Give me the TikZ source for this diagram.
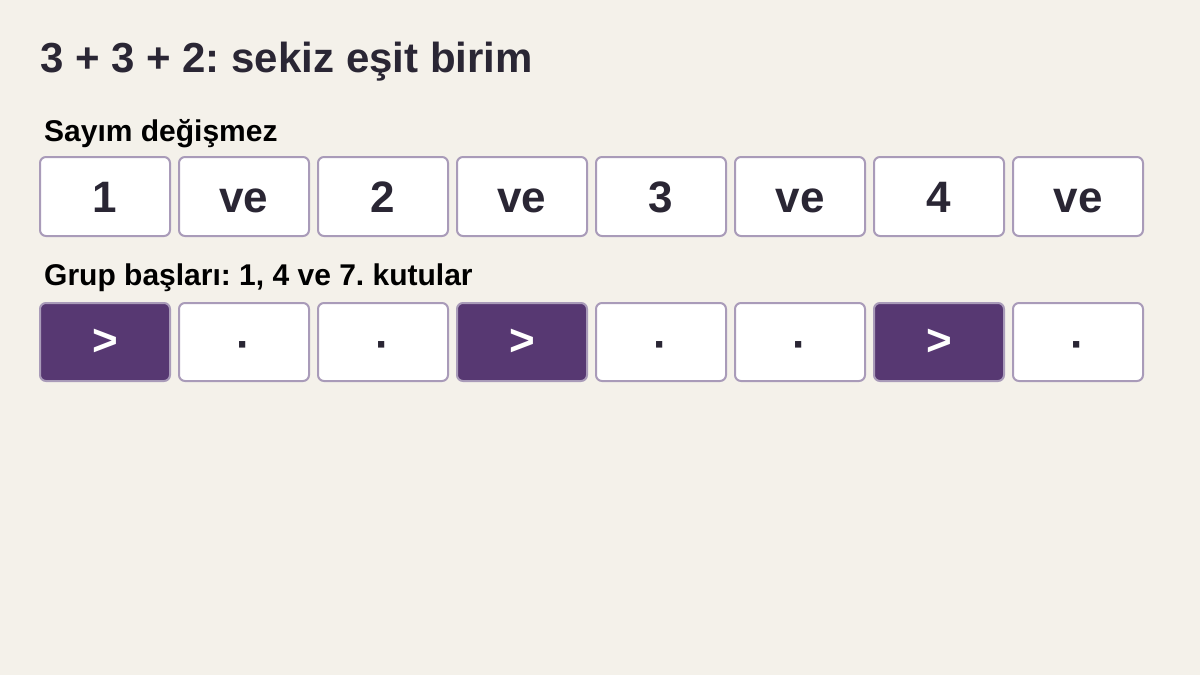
\documentclass[tikz,border=0pt]{standalone}
\usepackage{fontspec}
\setmainfont{Liberation Sans}
\frenchspacing
\definecolor{bg}{HTML}{F4F1EA}
\definecolor{ink}{HTML}{2A2634}
\definecolor{edge}{HTML}{A99BB9}
\definecolor{plum}{HTML}{573872}
\tikzset{
  cell/.style={draw=edge, line width=2pt, rounded corners=6pt, fill=white},
  hicell/.style={draw=edge, line width=2pt, rounded corners=6pt, fill=plum},
  celltext/.style={anchor=base, inner sep=0pt, text=ink, font=\fontsize{44}{50}\selectfont\bfseries},
  hitext/.style={anchor=base, inner sep=0pt, text=white, font=\fontsize{44}{50}\selectfont\bfseries},
  label/.style={anchor=base west, inner sep=0pt, text=black, font=\fontsize{30}{34}\selectfont\bfseries},
}
\begin{document}
\begin{tikzpicture}[x=1pt,y=-1pt]
\fill[bg] (0,0) rectangle (1200,675);
\useasboundingbox (0,0) rectangle (1200,675);
\node[anchor=base west, inner sep=0pt, text=ink, font=\fontsize{42}{48}\selectfont\bfseries] (title) at (40,72) {3 + 3 + 2: sekiz eşit birim};
\node[label] (lab1) at (44,141.5) {Sayım değişmez};
\node[label] (lab2) at (44,285) {Grup başları: 1, 4 ve 7. kutular};
\foreach \i/\t in {0/1,1/ve,2/2,3/ve,4/3,5/ve,6/4,7/ve}{
  \pgfmathsetmacro{\xl}{40+139*\i}
  \draw[cell] (\xl,157) rectangle ++(130,79);
  \node[celltext] (a\i) at (\xl+65,212) {\t};
}
\foreach \i/\h in {0/1,1/0,2/0,3/1,4/0,5/0,6/1,7/0}{
  \pgfmathsetmacro{\xl}{40+139*\i}
  \ifnum\h=1
    \draw[hicell] (\xl,303) rectangle ++(130,78);
    \node[hitext] (b\i) at (\xl+65,355) {>};
  \else
    \draw[cell] (\xl,303) rectangle ++(130,78);
    \node[celltext] (b\i) at (\xl+65,359) {·};
  \fi
}
\end{tikzpicture}
\end{document}
